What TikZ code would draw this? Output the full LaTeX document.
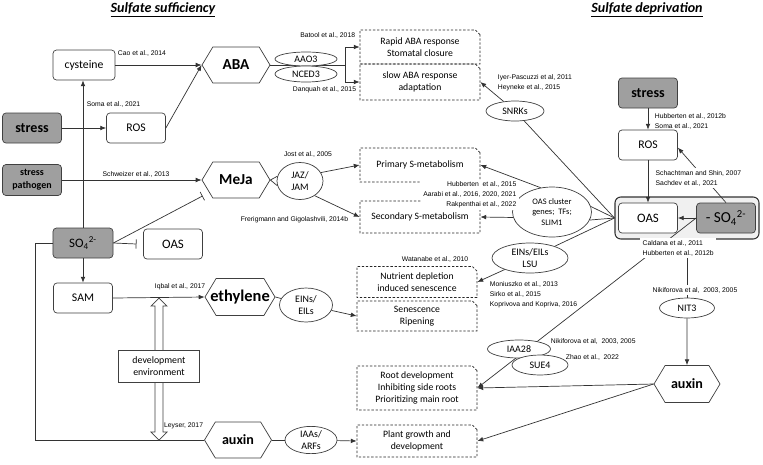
\documentclass[tikz,border=0pt]{standalone}
\usepackage{fontspec}
\setmainfont{Carlito}
\newfontfamily\citefont{Liberation Sans}
\usetikzlibrary{positioning, calc, arrows.meta, shapes.geometric, shapes.symbols, shapes.misc}

\begin{document}
\begin{tikzpicture}[x=0.03cm, y=-0.03cm, line width=0.6pt,
    every node/.style={inner sep=1pt, align=center},
    box/.style={draw=black!75, fill=white, rounded corners=3pt, minimum width=1.77cm, minimum height=0.9cm, font=\fontsize{10}{12}\selectfont},
    graybox/.style={box, fill=gray!75},
    hexa/.style={draw=black!75, fill=white, signal, signal to=west and east, signal pointer angle=118, minimum width=2.04cm, minimum height=1.08cm, inner sep=0pt, font=\bfseries\fontsize{13}{15}\selectfont},
    oval/.style={draw=black!75, fill=white, ellipse, inner sep=0pt, font=\fontsize{8.5}{10.5}\selectfont},
    effect/.style={draw=black!85, dash pattern=on 2pt off 1.5pt, chamfered rectangle, chamfered rectangle corners=north east, chamfered rectangle xsep=2pt, chamfered rectangle ysep=2pt, minimum width=3.6cm, font=\fontsize{8.3}{10.2}\selectfont},
    cite/.style={font=\citefont\fontsize{5.8}{8.5}\selectfont, inner sep=0.5pt},
    citew/.style={cite, fill=white, inner sep=2pt},
    con/.style={draw=black!80},
    arr/.style={draw=black!80, -{Latex[length=5pt, width=4pt]}},
    inh/.style={draw=black!80, -{Bar[width=8pt]}},
    title/.style={font=\bfseries\itshape\fontsize{12}{14}\selectfont}
]
    \useasboundingbox (0,0) rectangle (763,464);

    % Titles
    \node[title] (tsuf) at (163,10) {\underline{Sulfate sufficiency}};
    \node[title] (tdep) at (647,10) {\underline{Sulfate deprivation}};

    % Sulfate sufficiency: metabolites
    \node[box, minimum width=1.86cm] (cys) at (84,65) {cysteine};
    \node[graybox, font=\bfseries\fontsize{12}{14}\selectfont] (stressL) at (32,128) {stress};
    \node[box] (rosL) at (136,128) {ROS};
    \node[graybox, minimum height=0.93cm, font=\bfseries\fontsize{8.5}{10.8}\selectfont] (stressP) at (32,180) {stress\\pathogen};
    \node[graybox, minimum width=1.8cm, font=\fontsize{11}{13}\selectfont] (so4) at (83,243) {SO\textsubscript{4}\textsuperscript{2-}};
    \node[box, font=\fontsize{11}{13}\selectfont] (oasL) at (173,244) {OAS};
    \node[box] (sam) at (83,298) {SAM};

    % Hormones
    \node[hexa] (aba) at (236,65) {ABA};
    \node[hexa] (meja) at (236,180) {MeJa};
    \node[hexa, minimum width=2.1cm, minimum height=1.11cm, inner xsep=-12pt, font=\bfseries\fontsize{14}{16}\selectfont] (eth) at (240,297) {ethylene};
    \node[hexa, minimum width=2.01cm, font=\bfseries\fontsize{12}{14}\selectfont] (auxL) at (238,440) {auxin};

    % Responses
    \node[effect, minimum height=1.02cm] (rapid) at (420,47) {Rapid ABA response\\Stomatal closure};
    \node[effect, minimum height=1.08cm] (slow) at (420,82) {slow ABA response\\adaptation};
    \node[effect, minimum height=1.02cm] (prim) at (420,165) {Primary S-metabolism};
    \node[effect, minimum height=0.96cm] (sec) at (420,217) {Secondary S-metabolism};
    \node[effect, minimum height=0.93cm] (nutr) at (417,282) {Nutrient depletion\\induced senescence};
    \node[effect, minimum height=0.9cm] (senes) at (417,316) {Senescence\\Ripening};
    \node[effect, minimum height=1.32cm] (root) at (417,388) {Root development\\Inhibiting side roots\\Prioritizing main root};
    \node[effect, minimum height=0.96cm] (plant) at (417,441) {Plant growth and\\development};

    % Sulfate deprivation
    \node[graybox, font=\bfseries\fontsize{12}{14}\selectfont] (stressR) at (648,93) {stress};
    \node[box] (rosR) at (648,145) {ROS};
    \node[draw=gray!40!black, line width=0.9pt, fill=gray!12, rounded corners=5pt, minimum width=4.32cm, minimum height=1.26cm] (grp) at (687,218) {};
    \node[box, font=\fontsize{11}{13}\selectfont] (oasR) at (648,218) {OAS};
    \node[graybox, font=\fontsize{13}{15}\selectfont] (minus) at (726,218) {- SO\textsubscript{4}\textsuperscript{2-}};
    \node[oval, minimum width=1.65cm, minimum height=0.6cm] (nit) at (687,308) {NIT3};
    \node[hexa, minimum width=1.98cm, minimum height=1.11cm, font=\bfseries\fontsize{12}{14}\selectfont] (auxR) at (687,384) {auxin};

    % Mediators
    \node[oval, minimum width=1.38cm, minimum height=1.11cm] (jaz) at (300,181) {JAZ/\\JAM};
    \node[oval, minimum width=1.59cm, minimum height=1.02cm] (einsL) at (306,305) {EINs/\\EILs};
    \node[oval, minimum width=1.56cm, minimum height=0.78cm] (iaas) at (311,440) {IAAs/\\ARFs};
    \node[oval, minimum width=2.37cm, minimum height=1.5cm, font=\fontsize{7.2}{9.3}\selectfont] (clus) at (552,212) {OAS cluster\\genes;\ \ TFs;\\SLIM1};
    \node[oval, minimum width=2.28cm, minimum height=0.9cm] (einsR) at (530,258) {EINs/EILs\\LSU};
    \node[oval, minimum width=1.74cm, minimum height=0.6cm] (snrk) at (515,111) {SNRKs};

    % Arrows, sulfate sufficiency
    \foreach \a/\b in {cys.east/aba.west, rosL.east/aba.west, stressL/rosL, stressP.east/meja.west, so4/sam, sam.east/eth.west, jaz.22/prim.west, jaz.-45/sec.west, einsL.-12/senes.west, iaas/plant.west} {
        \draw[arr] (\a) -- (\b);
    }
    \draw[arr] (so4.north) -- (so4.north |- cys.south);
    \draw[inh] (so4.east) -- ([xshift=-0.2cm]oasL.west);
    \draw[inh, shorten >=0.22cm] (so4.east) -- (meja.205);
    \draw[con] (meja.east) -- (jaz.168);
    \draw[con] (meja.east) -- (jaz.192);
    \draw[con] (eth.east) -- (einsL);
    \draw[con] (auxL.east) -- (iaas);
    \draw[con] (so4.west) -- ++(-17,0) |- (auxL.west);

    % ABA fork
    \coordinate (abafork) at (345,65);
    \draw[con] (aba.east) -- (abafork);
    \draw[arr] (abafork) |- (rapid.west);
    \draw[arr] (abafork) |- (slow.west);
    \node[oval, minimum width=1.86cm, minimum height=0.42cm] (aao) at (306,59) {AAO3};
    \node[oval, minimum width=1.86cm, minimum height=0.48cm] (nced) at (306,74) {NCED3};

    % development / environment
    \draw[draw=black!75, fill=white] (159,298) -- (167,306) -- (163,306) -- (163,432) -- (167,432) -- (159,440) -- (151,432) -- (155,432) -- (155,306) -- (151,306) -- cycle;
    \node[draw=black!75, fill=white, minimum width=2.43cm, minimum height=0.96cm, font=\fontsize{8.4}{10}\selectfont] (dev) at (159,366) {development\\environment};

    % Arrows, sulfate deprivation
    \foreach \a/\b in {stressR/rosR, rosR/oasR, minus/oasR, minus.north/rosR.-5, nit/auxR, auxR.west/root.east, auxR.west/plant.east, snrk/slow.east, clus.115/prim.east, clus.188/sec.east, einsR/nutr.east} {
        \draw[arr] (\a) -- (\b);
    }
    \foreach \b in {snrk, clus.8, clus.-12, einsR} {
        \draw[con] (grp.west) -- (\b);
    }
    \draw[con] (grp.south) -- (nit.north);
    \draw[arr] (minus.west) -- (root.east);
    \node[oval, minimum width=1.89cm, minimum height=0.54cm] (iaa) at (519,349) {IAA28};
    \node[oval, minimum width=1.68cm, minimum height=0.6cm] (sue) at (540,365) {SUE4};

    % References
    \node[cite, anchor=west] (c1) at (117,53) {Cao et al., 2014};
    \node[cite, anchor=west] (c2) at (86,104) {Soma et al., 2021};
    \node[cite, anchor=east] (c3) at (356,35) {Batool et al., 2018};
    \node[cite, anchor=east] (c4) at (357,90) {Danquah et al., 2015};
    \node[cite] (c5) at (136,174) {Schweizer et al., 2013};
    \node[cite] (c6) at (308,154) {Jost et al., 2005};
    \node[cite, anchor=east] (c7) at (349,220) {Frerigmann and Gigolashvili, 2014b};
    \node[cite] (c8) at (180,287) {Iqbal et al., 2017};
    \node[cite, anchor=east] (c9) at (204,426) {Leyser, 2017};
    \node[cite] (c10) at (435,259) {Watanabe et al., 2010};
    \node[cite, anchor=west, align=left] (c11) at (489,295) {Moniuszko et al., 2013\\Sirko et al., 2015\\Koprivova and Kopriva, 2016};
    \node[citew, anchor=east, align=right] (c12) at (519,195) {Hubberten\ \ et al., 2015\\Aarabi et al., 2016, 2020, 2021\\Rakpenthai et al., 2022};
    \node[cite, anchor=west, align=left] (c13) at (497,83) {Iyer-Pascuzzi et al, 2011\\Heyneke et al., 2015};
    \node[cite, anchor=west, align=left] (c14) at (654,121) {Hubberten et al., 2012b\\Soma et al., 2021};
    \node[citew, anchor=west, align=left] (c15) at (653,178) {Schachtman and Shin, 2007\\Sachdev et al., 2021};
    \node[citew, anchor=west, align=left] (c16) at (640,248) {Caldana et al., 2011\\Hubberten et al., 2012b};
    \node[citew, anchor=west] (c17) at (650,290) {Nikiforova et al,\ \ 2003, 2005};
    \node[cite, anchor=west] (c18) at (550,341) {Nikiforova et al,\ \ 2003, 2005};
    \node[cite, anchor=west] (c19) at (565,357) {Zhao et al.,\ \ 2022};
\end{tikzpicture}
\end{document}
